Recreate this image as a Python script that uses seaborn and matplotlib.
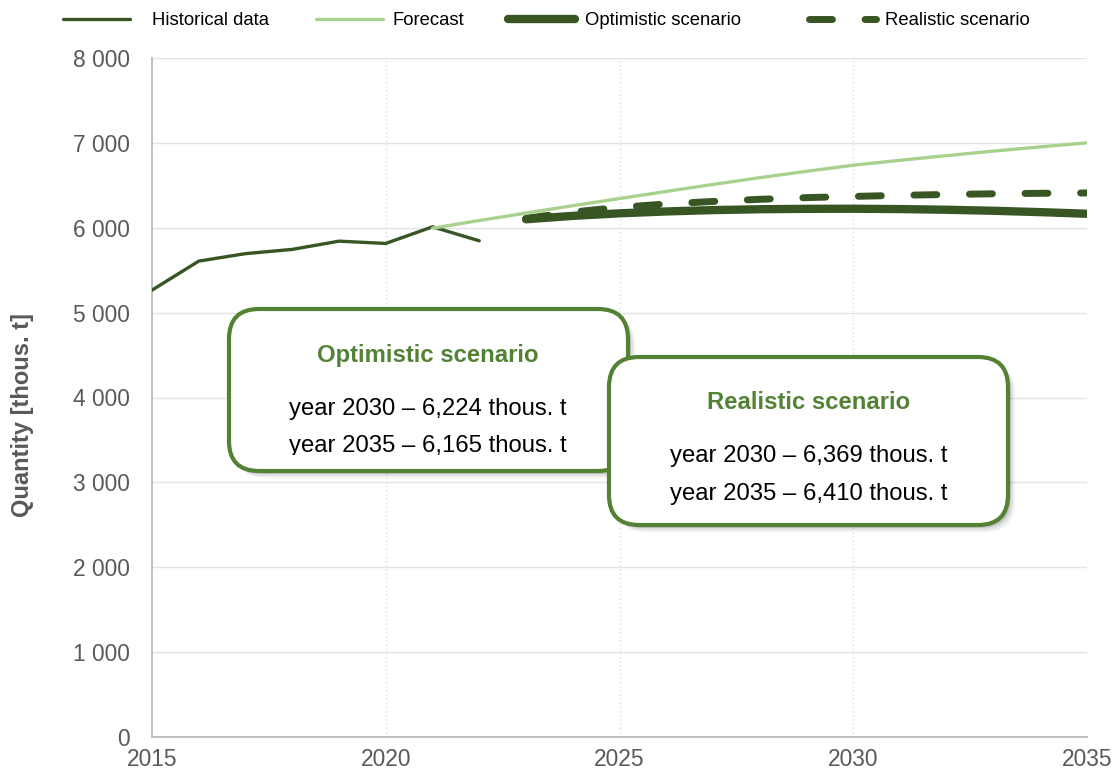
import matplotlib
matplotlib.use("Agg")
import matplotlib.pyplot as plt
import seaborn as sns
import pandas as pd
from matplotlib.patches import FancyBboxPatch
from matplotlib.transforms import Bbox, TransformedBbox
from matplotlib.ticker import FuncFormatter

# ---------------- data ----------------
hist_years = [2015, 2016, 2017, 2018, 2019, 2020, 2021, 2022]
hist_values = [5265, 5607, 5695, 5745, 5842, 5815, 6011, 5846]

forecast_years = list(range(2021, 2036))
forecast_values = [5995, 6085, 6173, 6260, 6344, 6428, 6510, 6590, 6665,
                   6737, 6795, 6850, 6903, 6953, 7000]

scen_years = list(range(2023, 2036))
optimistic_values = [6100, 6140, 6170, 6192, 6208, 6218, 6223, 6224,
                     6220, 6212, 6200, 6184, 6165]
realistic_values = [6110, 6185, 6240, 6280, 6310, 6335, 6355, 6369,
                    6382, 6392, 6400, 6406, 6410]

series_labels = ["Historical data", "Forecast", "Optimistic scenario", "Realistic scenario"]
x_ticks = [2015, 2020, 2025, 2030, 2035]
y_ticks = [0, 1000, 2000, 3000, 4000, 5000, 6000, 7000, 8000]
y_label = "Quantity [thous. t]"

box_opt_title = "Optimistic scenario"
box_opt_lines = ["year 2030 \u2013 6,224 thous. t", "year 2035 \u2013 6,165 thous. t"]
box_real_title = "Realistic scenario"
box_real_lines = ["year 2030 \u2013 6,369 thous. t", "year 2035 \u2013 6,410 thous. t"]

# ---------------- style ----------------
sns.set_theme(style="white")
plt.rcParams["font.family"] = ["Liberation Sans", "DejaVu Sans"]

DARK = "#375623"
LIGHT = "#a9d18e"
BOX_GREEN = "#548235"
GREY_TXT = "#595959"

W, H = 1113, 774
fig = plt.figure(figsize=(W / 100, H / 100), dpi=100)
fig.patch.set_facecolor("white")
ax = fig.add_axes([152 / W, 1 - 737 / H, (1087 - 152) / W, (737 - 58) / H])
ax.set_facecolor("white")

df_hist = pd.DataFrame({"year": hist_years, "value": hist_values})
df_fc = pd.DataFrame({"year": forecast_years, "value": forecast_values})
df_opt = pd.DataFrame({"year": scen_years, "value": optimistic_values})
df_real = pd.DataFrame({"year": scen_years, "value": realistic_values})

sns.lineplot(data=df_opt, x="year", y="value", ax=ax, color=DARK, linewidth=6.0,
             solid_capstyle="round", label=series_labels[2], zorder=3)
line_opt = ax.lines[-1]
sns.lineplot(data=df_real, x="year", y="value", ax=ax, color=DARK, linewidth=5.0,
             dash_capstyle="round", label=series_labels[3], zorder=4)
line_real = ax.lines[-1]
line_real.set_dashes((3.3, 4.7))
sns.lineplot(data=df_hist, x="year", y="value", ax=ax, color=DARK, linewidth=2.4,
             solid_capstyle="round", label=series_labels[0], zorder=5)
line_hist = ax.lines[-1]
sns.lineplot(data=df_fc, x="year", y="value", ax=ax, color=LIGHT, linewidth=2.4,
             solid_capstyle="round", label=series_labels[1], zorder=6)
line_fc = ax.lines[-1]

ax.set_xlim(2015, 2035)
ax.set_ylim(0, 8000)
ax.set_xticks(x_ticks)
ax.set_yticks(y_ticks)
ax.yaxis.set_major_formatter(FuncFormatter(lambda v, p: f"{int(v):,}".replace(",", " ")))
ax.tick_params(axis="both", length=0, labelsize=16.4, colors=GREY_TXT)
ax.tick_params(axis="x", pad=8)
ax.tick_params(axis="y", pad=16)
ax.set_xlabel("")
ax.set_ylabel("")
fig.text(22.5 / W, 1 - 415 / H, y_label, rotation=90, ha="center", va="center",
         fontsize=17, fontweight="bold", color=GREY_TXT)

ax.grid(False)
for yv in y_ticks[1:]:
    ax.axhline(yv, color="#e3e3e3", linewidth=1.0, zorder=1)
for xv in x_ticks[1:]:
    ax.axvline(xv, color="#dcdcdc", linewidth=1.0, linestyle=(0, (1, 2)), zorder=1)

for s in ["top", "right"]:
    ax.spines[s].set_visible(False)
for s in ["left", "bottom"]:
    ax.spines[s].set_color("#bfbfbf")
    ax.spines[s].set_linewidth(1.4)

if ax.get_legend() is not None:
    ax.get_legend().remove()

# legend entries placed individually (as in the reference layout)
LEG_FS = 13.3
fs_px = LEG_FS * 100 / 72.0
leg_specs = [(line_hist, series_labels[0], 62.5, 22.5),
             (line_fc, series_labels[1], 315.5, 9.5),
             (line_opt, series_labels[2], 508.0, 10.0),
             (line_real, series_labels[3], 808.5, 9.5)]
for h, lab, x0, gap in leg_specs:
    fig.legend(handles=[h], labels=[lab], loc="center left",
               bbox_to_anchor=(x0 / W, 1 - 20.5 / H), bbox_transform=fig.transFigure,
               frameon=False, fontsize=LEG_FS, handlelength=67 / fs_px,
               handletextpad=gap / fs_px, borderpad=0, borderaxespad=0,
               labelcolor="black")


# ---------------- annotation boxes ----------------
def px_to_in(x, y):
    return x / 100.0, (H - y) / 100.0


def draw_box(x0, y0, x1, y1, title, lines, zbase, title_y, line_ys, cx, clip_y=None):
    left, top = px_to_in(x0, y0)
    right, bottom = px_to_in(x1, y1)
    w, h = right - left, top - bottom
    for off, alpha in [(7, 0.05), (5, 0.08), (3, 0.12)]:
        sh = FancyBboxPatch((left + off / 100, bottom - off / 100), w, h,
                            boxstyle="round,pad=0,rounding_size=0.3",
                            transform=fig.dpi_scale_trans, facecolor="black",
                            edgecolor="none", alpha=alpha, zorder=zbase)
        fig.add_artist(sh)
    box = FancyBboxPatch((left, bottom), w, h, boxstyle="round,pad=0,rounding_size=0.3",
                         transform=fig.dpi_scale_trans, facecolor="white",
                         edgecolor=BOX_GREEN, linewidth=3.0, zorder=zbase + 1)
    fig.add_artist(box)
    tx, ty = px_to_in(cx, title_y)
    fig.text(tx, ty, title, transform=fig.dpi_scale_trans, ha="center", va="baseline",
             fontsize=17.2, fontweight="bold", color=BOX_GREEN, zorder=zbase + 2)
    for s, yy in zip(lines, line_ys):
        lx, ly = px_to_in(cx, yy)
        t = fig.text(lx, ly, s, transform=fig.dpi_scale_trans, ha="center", va="baseline",
                     fontsize=17.2, color="black", zorder=zbase + 2)
        if clip_y is not None:
            cb = Bbox.from_extents(left, (H - clip_y) / 100.0, right, top)
            t.set_clip_box(TransformedBbox(cb, fig.dpi_scale_trans))
            t.set_clip_on(True)


draw_box(229, 309, 628, 471, box_opt_title, box_opt_lines, 10,
         362, [415, 452], 428, clip_y=455)
draw_box(609, 357, 1008, 525, box_real_title, box_real_lines, 20,
         409, [462, 500], 809)

fig.savefig("out.png", dpi=100, facecolor="white")
